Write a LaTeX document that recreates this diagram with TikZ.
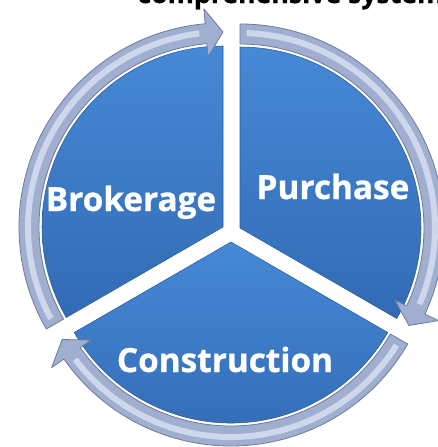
\documentclass[tikz,border=0pt]{standalone}
\usepackage{fontspec}
\setmainfont{Open Sans}[BoldFeatures={FakeBold=0.8}]
\definecolor{segTop}{RGB}{70,137,214}
\definecolor{segBot}{RGB}{50,106,180}
\definecolor{arrFill}{RGB}{160,175,207}
\definecolor{arrEdge}{RGB}{108,124,158}
\definecolor{arrLight}{RGB}{206,215,235}
\tikzset{every picture/.style={line width=0.75pt}}
\tikzset{
  segment/.style={top color=segTop, bottom color=segBot, draw=segBot!85!black, line width=0.4pt},
  cyclearrow/.style={fill=arrFill, draw=arrEdge, line width=0.6pt, line join=round},
  arrowshine/.style={draw=arrLight, line width=4.5pt},
  seglabel/.style={text=white, font=\bfseries\fontsize{25}{30}\selectfont, inner sep=0.75pt},
}

\begin{document}
\begin{tikzpicture}[x=0.75pt,y=0.75pt,yscale=-1,xscale=1]
\useasboundingbox (0,0) rectangle (438,447);
\clip (0,0) rectangle (438,447);

% Brokerage segment and its arrow
\begin{scope}[shift={(223,227)},yscale=-1]
\shade[segment] (0,0) -- (90:181) arc[start angle=90,end angle=210,radius=181] -- cycle;
\draw[cyclearrow] (210:204) arc[start angle=210,end angle=95,radius=204] -- (95:219) -- (90:195) -- (95:171) -- (95:184) arc[start angle=95,end angle=210,radius=184] -- cycle;
\draw[arrowshine] (208:195) arc[start angle=208,end angle=97,radius=195];
\end{scope}

% Purchase segment and its arrow
\begin{scope}[shift={(240,228)},yscale=-1]
\shade[segment] (0,0) -- (90:181) arc[start angle=90,end angle=-30,radius=181] -- cycle;
\draw[cyclearrow] (90:204) arc[start angle=90,end angle=-25,radius=204] -- (-25:219) -- (-30:195) -- (-25:171) -- (-25:184) arc[start angle=-25,end angle=90,radius=184] -- cycle;
\draw[arrowshine] (88:195) arc[start angle=88,end angle=-23,radius=195];
\end{scope}

% Construction segment and its arrow
\begin{scope}[shift={(231,242)},yscale=-1]
\shade[segment] (0,0) -- (210:181) arc[start angle=210,end angle=330,radius=181] -- cycle;
\draw[cyclearrow] (330:204) arc[start angle=330,end angle=215,radius=204] -- (215:219) -- (210:195) -- (215:171) -- (215:184) arc[start angle=215,end angle=330,radius=184] -- cycle;
\draw[arrowshine] (328:195) arc[start angle=328,end angle=217,radius=195];
\end{scope}

% Text Node
\node[seglabel, anchor=base] (brokerage) at (131,211) {Brokerage};
% Text Node
\node[seglabel, anchor=base] (purchase) at (333,199) {Purchase};
% Text Node
\node[seglabel, anchor=base] (construction) at (225,372) {Construction};
% Text Node
\node[anchor=base west, inner sep=0pt, font=\bfseries\fontsize{20}{24}\selectfont] (title) at (137,3) {comprehensive system};
\end{tikzpicture}
\end{document}
